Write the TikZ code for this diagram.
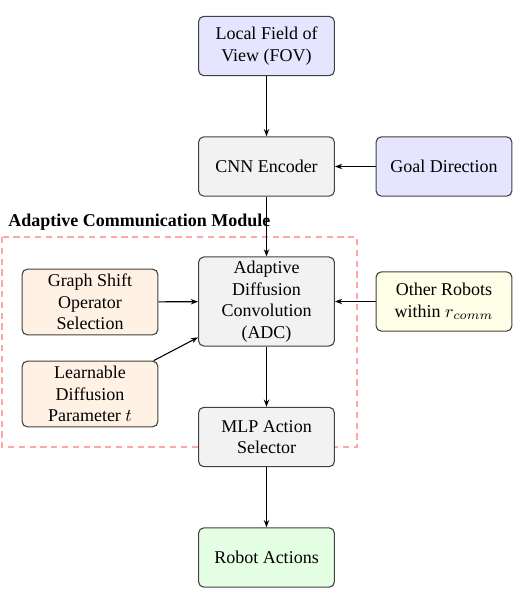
\documentclass[tikz,border=0pt]{standalone}
\usepackage{fontspec}
\setmainfont{Liberation Serif}
\usetikzlibrary{arrows.meta,positioning}
\begin{document}
\begin{tikzpicture}[x=0.5556pt,y=-0.5556pt,
  box/.style={draw=black!75, line width=0.6pt, rounded corners=3pt, minimum width=75.5pt, minimum height=33pt, align=center, font=\rmfamily\fontsize{10}{12}\selectfont, inner sep=2pt},
  boxtall/.style={box, minimum height=49.5pt},
  boxmid/.style={box, minimum height=36.5pt},
  arr/.style={-{Stealth[length=4pt,width=3pt]}, line width=0.6pt, black}]
\useasboundingbox (0,0) rectangle (515,595);
\draw[red!35, line width=0.6pt, dash pattern=on 3.5pt off 2.5pt] (2,237) rectangle (357,447);
\node[font=\rmfamily\bfseries\fontsize{10}{12}\selectfont, anchor=base west, inner sep=0pt] (title) at (8,226) {Adaptive Communication Module};
\node[box, fill=blue!10] (fov) at (266.5,46) {Local Field of\\View (FOV)};
\node[box, fill=black!5] (cnn) at (266.5,166.5) {CNN Encoder};
\node[box, fill=blue!10] (goal) at (444,166.5) {Goal Direction};
\node[boxtall, fill=black!5] (adc) at (266.5,301.5) {Adaptive\\Diffusion\\Convolution\\(ADC)};
\node[boxmid, fill=orange!10] (gso) at (90,302) {Graph Shift\\Operator\\Selection};
\node[boxmid, fill=orange!10] (learn) at (90,394) {Learnable\\Diffusion\\Parameter $t$};
\node[box, fill=yellow!10] (other) at (444,301.5) {Other Robots\\within $r_{comm}$};
\node[box, fill=black!5] (mlp) at (266.5,437) {MLP Action\\Selector};
\node[box, fill=green!10] (act) at (266.5,557.5) {Robot Actions};
\draw[arr] (fov) -- (cnn);
\draw[arr] (goal) -- (cnn);
\draw[arr] (cnn) -- (adc);
\draw[arr] (gso) -- (adc);
\draw[arr] (learn) -- (adc);
\draw[arr] (other) -- (adc);
\draw[arr] (adc) -- (mlp);
\draw[arr] (mlp) -- (act);
\end{tikzpicture}
\end{document}
